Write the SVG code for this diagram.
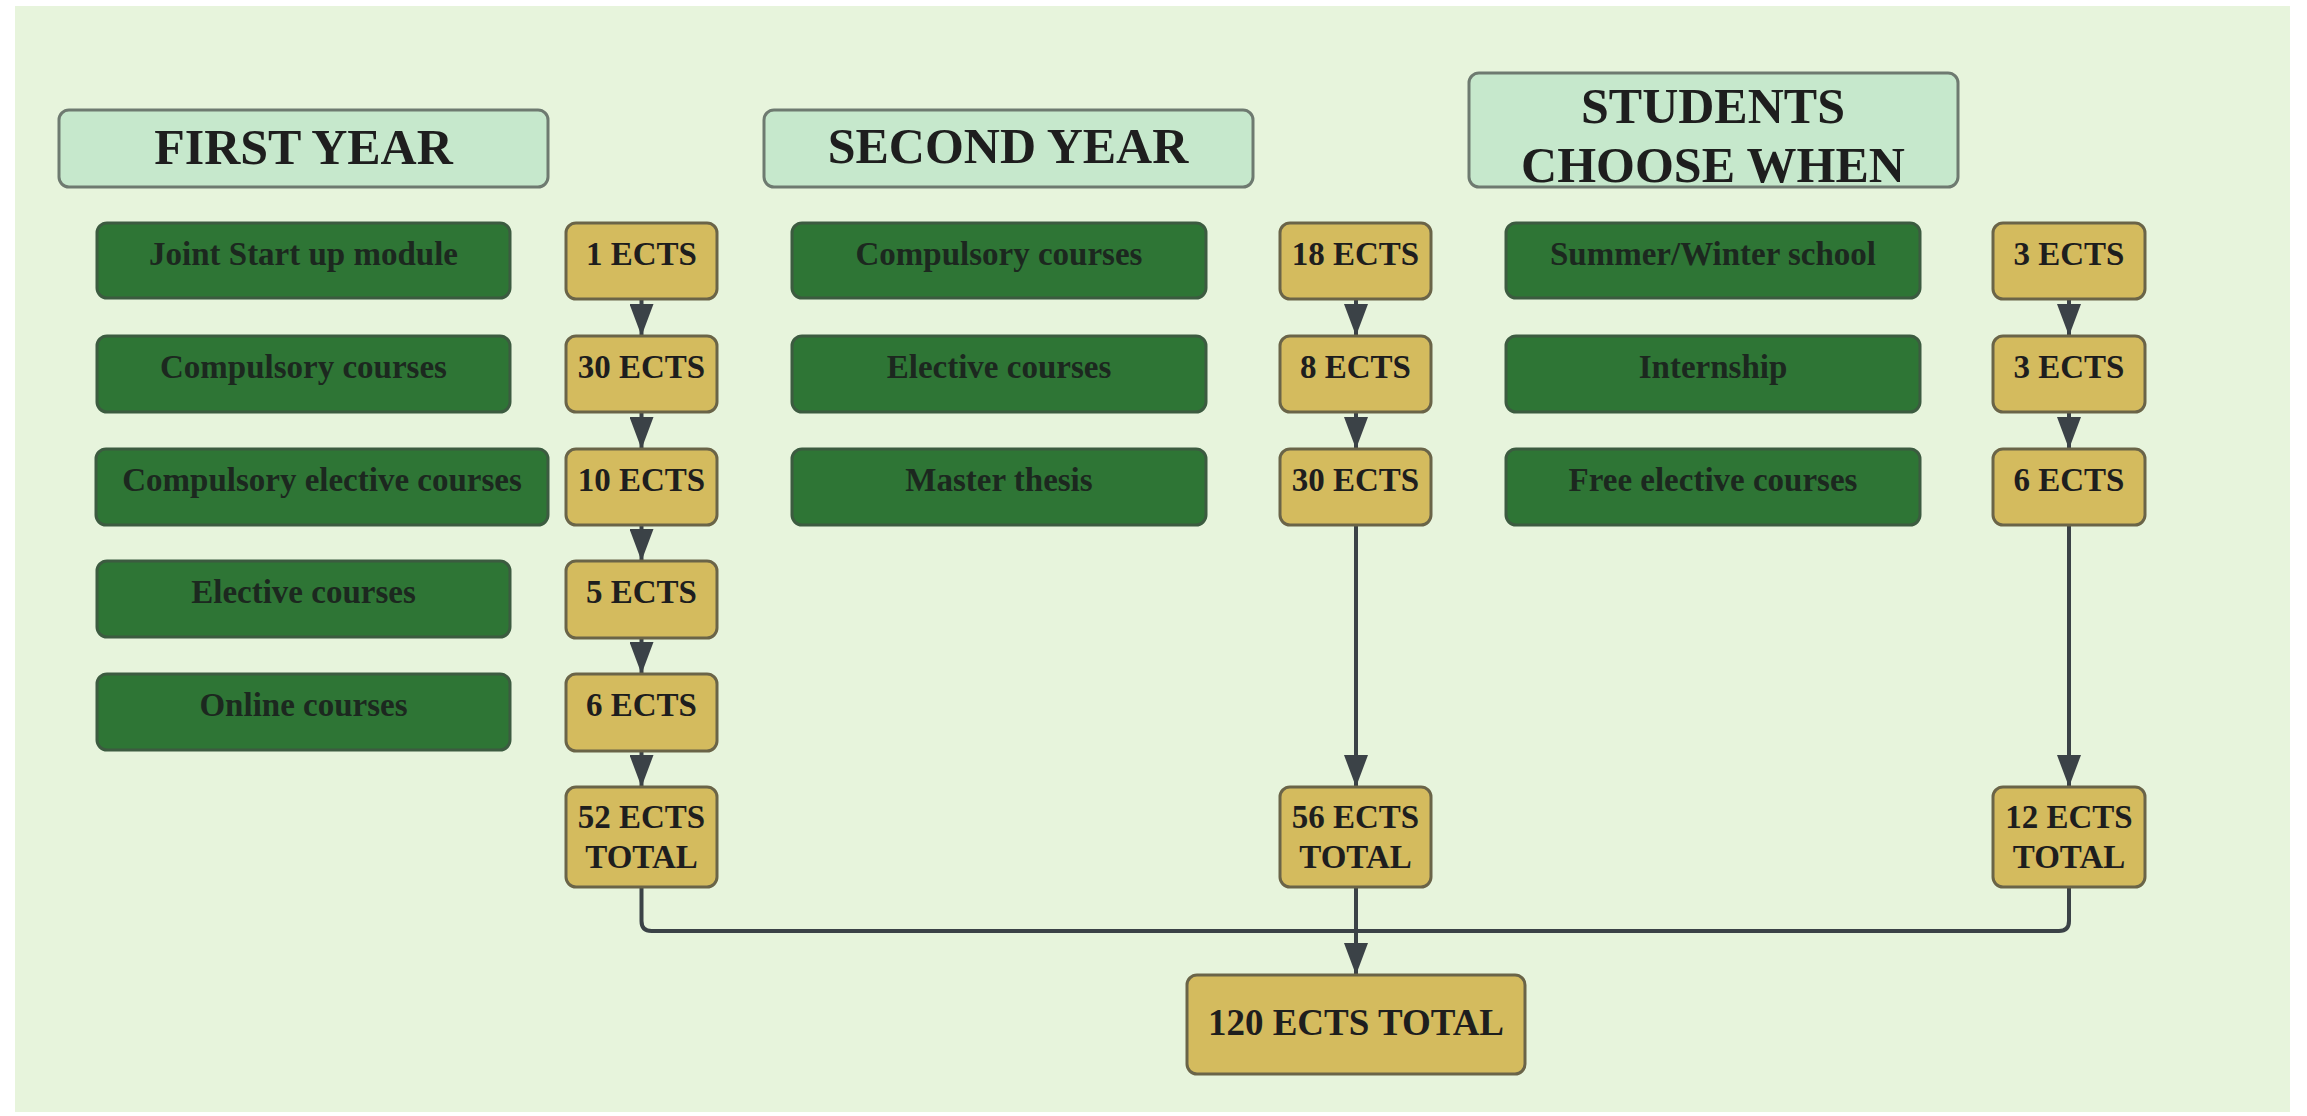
<svg xmlns="http://www.w3.org/2000/svg" width="2307" height="1116" viewBox="0 0 2307 1116">
<defs>
<style>
text{font-family:"Liberation Serif","Times New Roman",serif;font-weight:bold;text-anchor:middle}
.hdr rect{fill:#c6e8cc;stroke:#6e7a70;stroke-width:3}
.hdr text{font-size:50px;fill:#1e1e1e}
.grn rect{fill:#2e7535;stroke:#3c5b40;stroke-width:3}
.grn text{font-size:33px;fill:#1c281f}
.gld rect{fill:#d4bb5e;stroke:#6a6448;stroke-width:3}
.gld text{font-size:33px;fill:#1e1e1e}
.tot text{font-size:37px}
.con path{fill:none;stroke:#3b4247;stroke-width:4}
</style>
<marker id="ah" markerUnits="userSpaceOnUse" markerWidth="32" markerHeight="24" refX="32" refY="12" orient="auto" viewBox="0 0 32 24">
<path d="M0,0 L32,12 L0,24 z" fill="#3b4247"/>
</marker>
</defs>
<rect x="0" y="0" width="2307" height="1116" fill="#ffffff"/>
<rect x="15" y="6" width="2275" height="1106" fill="#e7f4dc"/>

<g id="connectors" class="con">
<path d="M641.5,299 V336" marker-end="url(#ah)"/>
<path d="M641.5,412 V449" marker-end="url(#ah)"/>
<path d="M641.5,525 V561" marker-end="url(#ah)"/>
<path d="M641.5,638 V674" marker-end="url(#ah)"/>
<path d="M641.5,751 V787" marker-end="url(#ah)"/>
<path d="M1356,299 V336" marker-end="url(#ah)"/>
<path d="M1356,412 V449" marker-end="url(#ah)"/>
<path d="M1356,525 V787" marker-end="url(#ah)"/>
<path d="M2069,299 V336" marker-end="url(#ah)"/>
<path d="M2069,412 V449" marker-end="url(#ah)"/>
<path d="M2069,525 V787" marker-end="url(#ah)"/>
<path d="M641.5,887 V921 Q641.5,931 651.5,931 H2059 Q2069,931 2069,921 V887"/>
<path d="M1356,887 V975" marker-end="url(#ah)"/>
</g>

<g id="h-first" class="hdr"><rect x="59" y="110" width="489" height="77" rx="10"/><text x="303.5" y="164">FIRST YEAR</text></g>
<g id="h-second" class="hdr"><rect x="764" y="110" width="489" height="77" rx="10"/><text x="1008" y="163">SECOND YEAR</text></g>
<g id="h-students" class="hdr"><rect x="1469" y="73" width="489" height="114" rx="10"/><text x="1713" y="123">STUDENTS</text><text x="1713" y="182">CHOOSE WHEN</text></g>

<g id="c1-joint" class="grn"><rect x="97" y="223" width="413" height="75" rx="10"/><text x="303.5" y="265">Joint Start up module</text></g>
<g id="c1-comp" class="grn"><rect x="97" y="336" width="413" height="76" rx="10"/><text x="303.5" y="378">Compulsory courses</text></g>
<g id="c1-compel" class="grn"><rect x="96" y="449" width="452" height="76" rx="10"/><text x="322" y="491">Compulsory elective courses</text></g>
<g id="c1-elec" class="grn"><rect x="97" y="561" width="413" height="76" rx="10"/><text x="303.5" y="603">Elective courses</text></g>
<g id="c1-online" class="grn"><rect x="97" y="674" width="413" height="76" rx="10"/><text x="303.5" y="716">Online courses</text></g>

<g id="c1-e1" class="gld"><rect x="566" y="223" width="151" height="76" rx="10"/><text x="641.5" y="265">1 ECTS</text></g>
<g id="c1-e30" class="gld"><rect x="566" y="336" width="151" height="76" rx="10"/><text x="641.5" y="378">30 ECTS</text></g>
<g id="c1-e10" class="gld"><rect x="566" y="449" width="151" height="76" rx="10"/><text x="641.5" y="491">10 ECTS</text></g>
<g id="c1-e5" class="gld"><rect x="566" y="561" width="151" height="77" rx="10"/><text x="641.5" y="603">5 ECTS</text></g>
<g id="c1-e6" class="gld"><rect x="566" y="674" width="151" height="77" rx="10"/><text x="641.5" y="716">6 ECTS</text></g>
<g id="c1-total" class="gld"><rect x="566" y="787" width="151" height="100" rx="10"/><text x="641.5" y="828">52 ECTS</text><text x="641.5" y="868">TOTAL</text></g>

<g id="c2-comp" class="grn"><rect x="792" y="223" width="414" height="75" rx="10"/><text x="999" y="265">Compulsory courses</text></g>
<g id="c2-elec" class="grn"><rect x="792" y="336" width="414" height="76" rx="10"/><text x="999" y="378">Elective courses</text></g>
<g id="c2-thesis" class="grn"><rect x="792" y="449" width="414" height="76" rx="10"/><text x="999" y="491">Master thesis</text></g>

<g id="c2-e18" class="gld"><rect x="1280" y="223" width="151" height="76" rx="10"/><text x="1355.5" y="265">18 ECTS</text></g>
<g id="c2-e8" class="gld"><rect x="1280" y="336" width="151" height="76" rx="10"/><text x="1355.5" y="378">8 ECTS</text></g>
<g id="c2-e30" class="gld"><rect x="1280" y="449" width="151" height="76" rx="10"/><text x="1355.5" y="491">30 ECTS</text></g>
<g id="c2-total" class="gld"><rect x="1280" y="787" width="151" height="100" rx="10"/><text x="1355.5" y="828">56 ECTS</text><text x="1355.5" y="868">TOTAL</text></g>

<g id="c3-summer" class="grn"><rect x="1506" y="223" width="414" height="75" rx="10"/><text x="1713" y="265">Summer/Winter school</text></g>
<g id="c3-intern" class="grn"><rect x="1506" y="336" width="414" height="76" rx="10"/><text x="1713" y="378">Internship</text></g>
<g id="c3-free" class="grn"><rect x="1506" y="449" width="414" height="76" rx="10"/><text x="1713" y="491">Free elective courses</text></g>

<g id="c3-e3a" class="gld"><rect x="1993" y="223" width="152" height="76" rx="10"/><text x="2069" y="265">3 ECTS</text></g>
<g id="c3-e3b" class="gld"><rect x="1993" y="336" width="152" height="76" rx="10"/><text x="2069" y="378">3 ECTS</text></g>
<g id="c3-e6" class="gld"><rect x="1993" y="449" width="152" height="76" rx="10"/><text x="2069" y="491">6 ECTS</text></g>
<g id="c3-total" class="gld"><rect x="1993" y="787" width="152" height="100" rx="10"/><text x="2069" y="828">12 ECTS</text><text x="2069" y="868">TOTAL</text></g>

<g id="grand-total" class="gld tot"><rect x="1187" y="975" width="338" height="99" rx="10"/><text x="1356" y="1035">120 ECTS TOTAL</text></g>
</svg>
